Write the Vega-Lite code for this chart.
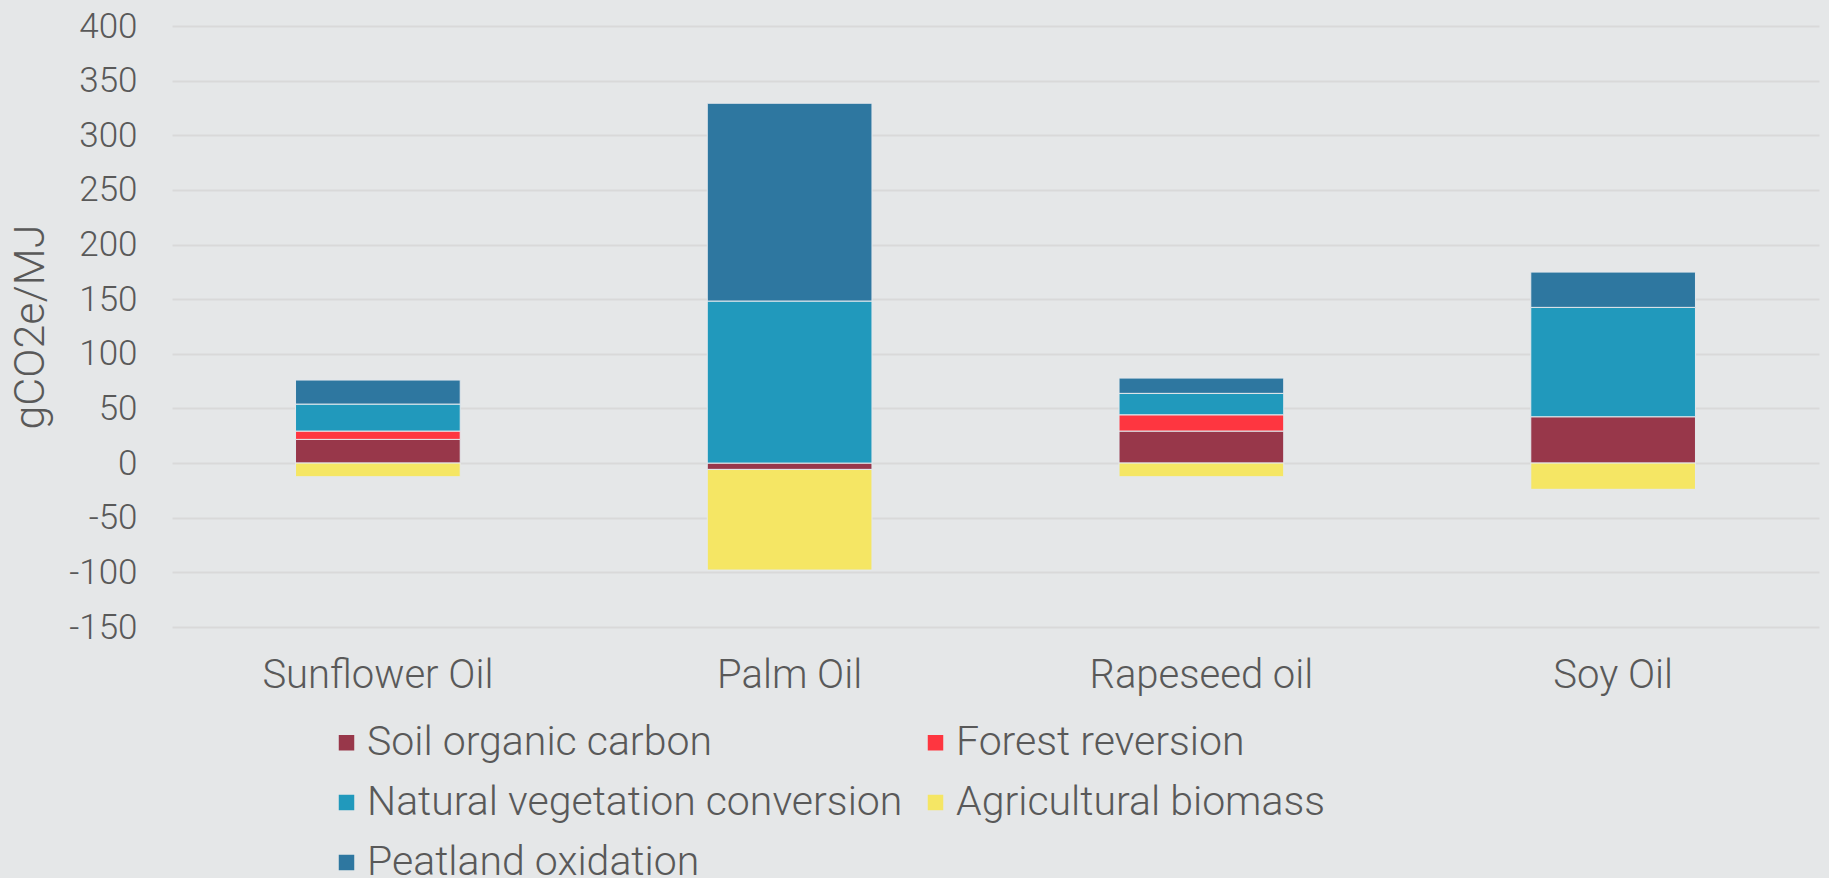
{
  "$schema": "https://vega.github.io/schema/vega-lite/v6.json",
  "width": 1647,
  "height": 601,
  "autosize": {"type": "none"},
  "padding": {"left": 172, "top": 26, "right": 10, "bottom": 251},
  "background": "#e5e7e8",
  "config": {
    "view": {"stroke": null},
    "font": "Roboto",
    "axis": {"labelColor": "#595959", "titleColor": "#595959", "labelFont": "Roboto", "titleFont": "Roboto", "labelFontWeight": 300, "titleFontWeight": 300},
    "legend": {"labelColor": "#595959", "labelFont": "Roboto", "labelFontWeight": 300}
  },
  "data": {
    "values": [
      {"oil": "Sunflower Oil", "component": "Soil organic carbon", "rank": 1, "value": 21.7},
      {"oil": "Sunflower Oil", "component": "Forest reversion", "rank": 2, "value": 7.6},
      {"oil": "Sunflower Oil", "component": "Natural vegetation conversion", "rank": 3, "value": 24.7},
      {"oil": "Sunflower Oil", "component": "Agricultural biomass", "rank": 4, "value": -12.5},
      {"oil": "Sunflower Oil", "component": "Peatland oxidation", "rank": 5, "value": 22.0},
      {"oil": "Palm Oil", "component": "Soil organic carbon", "rank": 1, "value": -5.8},
      {"oil": "Palm Oil", "component": "Natural vegetation conversion", "rank": 3, "value": 148.3},
      {"oil": "Palm Oil", "component": "Agricultural biomass", "rank": 4, "value": -92.1},
      {"oil": "Palm Oil", "component": "Peatland oxidation", "rank": 5, "value": 181.0},
      {"oil": "Rapeseed oil", "component": "Soil organic carbon", "rank": 1, "value": 29.3},
      {"oil": "Rapeseed oil", "component": "Forest reversion", "rank": 2, "value": 14.9},
      {"oil": "Rapeseed oil", "component": "Natural vegetation conversion", "rank": 3, "value": 19.6},
      {"oil": "Rapeseed oil", "component": "Agricultural biomass", "rank": 4, "value": -12.5},
      {"oil": "Rapeseed oil", "component": "Peatland oxidation", "rank": 5, "value": 14.0},
      {"oil": "Soy Oil", "component": "Soil organic carbon", "rank": 1, "value": 42.4},
      {"oil": "Soy Oil", "component": "Natural vegetation conversion", "rank": 3, "value": 100.1},
      {"oil": "Soy Oil", "component": "Agricultural biomass", "rank": 4, "value": -24.0},
      {"oil": "Soy Oil", "component": "Peatland oxidation", "rank": 5, "value": 32.3}
    ]
  },
  "mark": {"type": "bar", "stroke": "#e4e8ec", "strokeWidth": 1},
  "encoding": {
    "x": {
      "field": "oil",
      "type": "nominal",
      "sort": ["Sunflower Oil", "Palm Oil", "Rapeseed oil", "Soy Oil"],
      "scale": {"paddingInner": 0.6, "paddingOuter": 0.3},
      "axis": {"title": null, "labelAngle": 0, "labelFontSize": 40, "labelPadding": 28, "labelLimit": 600, "domain": false, "ticks": false, "grid": false}
    },
    "y": {
      "field": "value",
      "type": "quantitative",
      "stack": "zero",
      "scale": {"domain": [-150, 400], "nice": false},
      "axis": {
        "title": "gCO2e/MJ",
        "values": [-150, -100, -50, 0, 50, 100, 150, 200, 250, 300, 350, 400],
        "labelExpr": "replace(datum.label, '\u2212', '-')",
        "labelFontSize": 35,
        "labelPadding": 35,
        "titleFontSize": 43,
        "titlePadding": 16,
        "domain": false,
        "ticks": false,
        "grid": true,
        "gridColor": "#d9d9d9",
        "gridWidth": 2
      }
    },
    "color": {
      "field": "component",
      "type": "nominal",
      "scale": {
        "domain": ["Soil organic carbon", "Forest reversion", "Natural vegetation conversion", "Agricultural biomass", "Peatland oxidation"],
        "range": ["#98374A", "#FE3640", "#2199BC", "#F5E664", "#2E77A0"]
      },
      "legend": {
        "title": null,
        "orient": "none",
        "legendX": 154,
        "legendY": 696,
        "direction": "horizontal",
        "columns": 2,
        "columnPadding": 12,
        "rowPadding": 18,
        "symbolType": "square",
        "symbolSize": 240,
        "symbolStrokeWidth": 0,
        "labelFontSize": 41,
        "labelOffset": 0,
        "labelLimit": 800
      }
    },
    "order": {"field": "rank", "type": "quantitative"}
  }
}
